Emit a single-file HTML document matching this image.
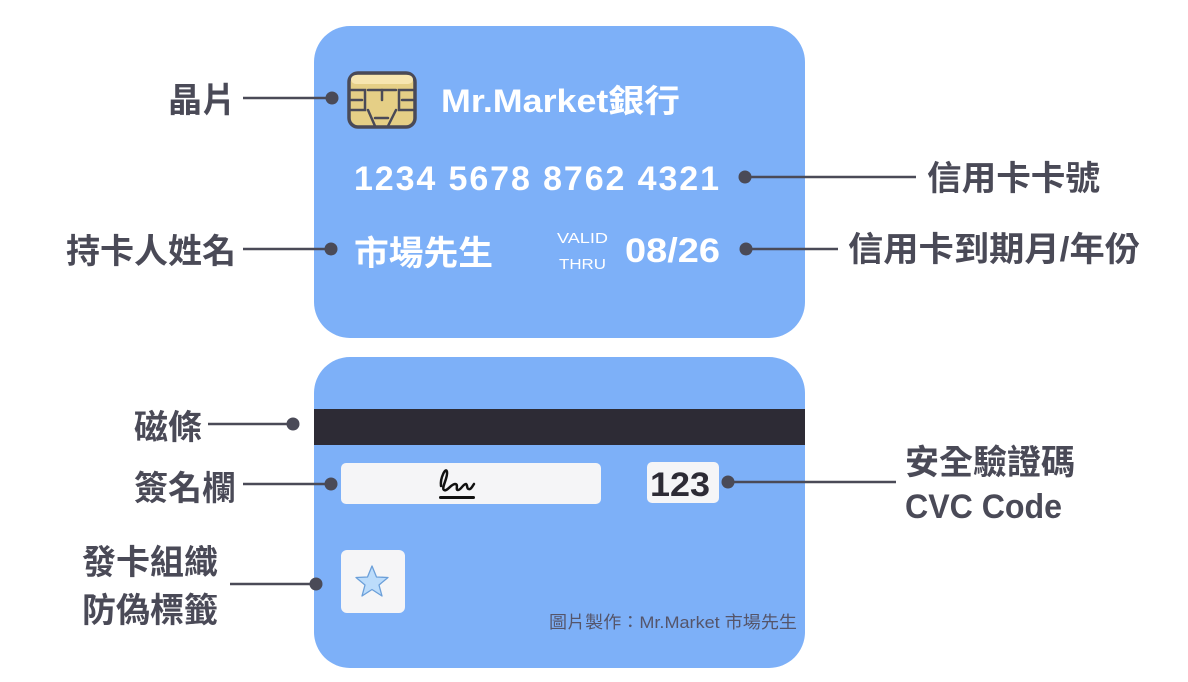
<!DOCTYPE html>
<html><head><meta charset="utf-8"><style>
html,body{margin:0;padding:0;background:#fff;}
svg{display:block;}
.lab{font-family:"Liberation Sans","Noto Sans CJK TC",sans-serif;font-weight:700;font-size:34px;fill:#4a4a57;}
.w{font-family:"Liberation Sans","Noto Sans CJK TC",sans-serif;fill:#fff;}
</style></head><body>
<svg width="1188" height="682" viewBox="0 0 1188 682" xmlns="http://www.w3.org/2000/svg">
<rect x="314" y="26" width="491" height="312" rx="36" fill="#7db0f8"/>
<rect x="314" y="357" width="491" height="311" rx="36" fill="#7db0f8"/>
<rect x="349" y="73" width="66" height="54" rx="9" fill="#e5cf86" stroke="#4a4a57" stroke-width="3.5"/>
<rect x="351" y="75" width="62" height="9" rx="5" fill="#f7e6b0"/>
<g stroke="#4a4a57" stroke-width="2.5" fill="none" stroke-linecap="round">
<path d="M351 90 H365 V110 H351"/><path d="M351 100 H362"/>
<path d="M413 90 H399 V110 H413"/><path d="M413 100 H402"/>
<path d="M368 90 H396"/><path d="M382 90 V100"/>
<path d="M368 110 L375 126"/><path d="M396 110 L388 126"/><path d="M375 118 L388 118"/>
</g>
<text class="w" x="441" y="112" font-size="32" font-weight="700" textLength="239" lengthAdjust="spacingAndGlyphs">Mr.Market銀行</text>
<text class="w" x="354" y="190" font-size="34" font-weight="700" textLength="365" lengthAdjust="spacing">1234 5678 8762 4321</text>
<text class="w" x="354" y="265" font-size="34" font-weight="700" textLength="139" lengthAdjust="spacingAndGlyphs">市場先生</text>
<text class="w" x="557" y="243" font-size="15" textLength="51" lengthAdjust="spacingAndGlyphs">VALID</text>
<text class="w" x="559" y="269" font-size="15" textLength="47" lengthAdjust="spacingAndGlyphs">THRU</text>
<text class="w" x="625" y="262" font-size="34" font-weight="700" textLength="95" lengthAdjust="spacingAndGlyphs">08/26</text>
<rect x="314" y="409" width="491" height="36" fill="#2d2b35"/>
<rect x="341" y="463" width="260" height="41" rx="5" fill="#f5f5f7"/>
<path d="M441 486 C440 478 446 466 447 472 C448 478 441 488 444 490 C447 492 451 484 455 484 C459 484 455 490 458 490 C461 490 463 484 466 484 C468 485 466 490 470 489 C472 488 473 485 474 484" fill="none" stroke="#111" stroke-width="2.5" stroke-linecap="round"/>
<rect x="439" y="496" width="36" height="3" rx="1.5" fill="#111"/>
<rect x="647" y="462" width="72" height="41" rx="5" fill="#f5f5f7"/>
<text x="650" y="496" font-family="Liberation Sans,sans-serif" font-size="34" font-weight="700" fill="#2d2b35" textLength="60" lengthAdjust="spacingAndGlyphs">123</text>
<rect x="341" y="550" width="64" height="63" rx="6" fill="#f5f5f7"/>
<polygon points="372,566 376.5,577 388,577.5 379,585 382,596 372,589.5 362,596 365,585 356,577.5 367.5,577" fill="#bcdcfb" stroke="#6b9fd9" stroke-width="1.3" stroke-linejoin="round"/>
<text x="549" y="628" font-family="Liberation Sans,Noto Sans CJK TC,sans-serif" font-size="17" fill="#55556a" textLength="248" lengthAdjust="spacingAndGlyphs">圖片製作：Mr.Market 市場先生</text>
<g stroke="#4a4a57" stroke-width="2.5">
<line x1="243" y1="98" x2="332" y2="98"/>
<line x1="745" y1="177" x2="916" y2="177"/>
<line x1="243" y1="249" x2="331" y2="249"/>
<line x1="746" y1="249" x2="838" y2="249"/>
<line x1="208" y1="424" x2="293" y2="424"/>
<line x1="243" y1="484" x2="331" y2="484"/>
<line x1="728" y1="482" x2="896" y2="482"/>
<line x1="230" y1="584" x2="316" y2="584"/>
</g>
<g fill="#4a4a57">
<circle cx="332" cy="98" r="6.5"/><circle cx="745" cy="177" r="6.5"/>
<circle cx="331" cy="249" r="6.5"/><circle cx="746" cy="249" r="6.5"/>
<circle cx="293" cy="424" r="6.5"/><circle cx="331" cy="484" r="6.5"/>
<circle cx="728" cy="482" r="6.5"/><circle cx="316" cy="584" r="6.5"/>
</g>
<text class="lab" x="236" y="112" text-anchor="end">晶片</text>
<text class="lab" x="927" y="190" textLength="173" lengthAdjust="spacingAndGlyphs">信用卡卡號</text>
<text class="lab" x="236" y="263" text-anchor="end">持卡人姓名</text>
<text class="lab" x="848" y="261" textLength="292" lengthAdjust="spacingAndGlyphs">信用卡到期月/年份</text>
<text class="lab" x="202" y="439" text-anchor="end">磁條</text>
<text class="lab" x="236" y="500" text-anchor="end">簽名欄</text>
<text class="lab" x="905" y="474">安全驗證碼</text>
<text class="lab" x="905" y="518" textLength="157" lengthAdjust="spacingAndGlyphs">CVC Code</text>
<text class="lab" x="82" y="574">發卡組織</text>
<text class="lab" x="82" y="622">防偽標籤</text>
</svg>
</body></html>
